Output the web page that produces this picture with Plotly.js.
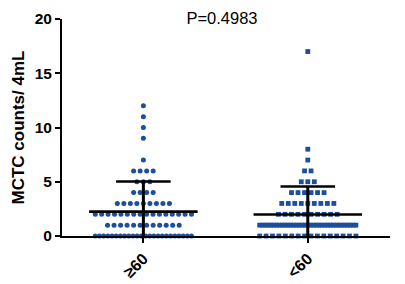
<!DOCTYPE html>
<html>
<head>
<meta charset="utf-8">
<script src="https://cdn.plot.ly/plotly-3.0.1.min.js"></script>
<style>html,body{margin:0;padding:0;background:#fff;}#chart{width:405px;height:284px;}</style>
</head>
<body>
<div id="chart"></div>
<script>
// ---- data ----
const categories = ['≥60', '<60'];
// group ≥60 : distinct values and how many patients at each value
const ge60Values = [0, 1, 2, 3, 4, 5, 6, 7, 9, 10, 11, 12];
const ge60Counts = [24, 12, 16, 9, 4, 3, 4, 1, 1, 1, 1, 1];
// group <60
const lt60Values = [0, 1, 2, 3, 4, 5, 6, 7, 8, 17];
const lt60Counts = [16, 35, 10, 9, 6, 3, 2, 1, 1, 1];
// mean and SD shown by the bars
const means = [2.25, 1.98];
const sds = [2.77, 2.58];
const pText = 'P=0.4983';
const yTickVals = [0, 5, 10, 15, 20];

// ---- styling / layout constants ----
const blue = '#1c4e9d';
const pxPerUnit = 164;     // px per category unit on x
const maxSpacing = 6.5;    // px between neighbouring points
const maxWidth = 96;       // px max width of a row
const meanHalf = 0.33, capHalf = 0.166;

function swarm(center, values, counts) {
  const xs = [], ys = [];
  values.forEach((v, i) => {
    const n = counts[i];
    const sp = n > 1 ? Math.min(maxSpacing, maxWidth / (n - 1)) : 0;
    for (let k = 0; k < n; k++) {
      const off = (k - (n - 1) / 2) * sp;
      xs.push(center + off / pxPerUnit);
      ys.push(v);
    }
  });
  return {xs, ys};
}

const g1 = swarm(0, ge60Values, ge60Counts);
const g2 = swarm(1, lt60Values, lt60Counts);

const traces = [
  {type: 'scatter', mode: 'markers', x: g1.xs, y: g1.ys, cliponaxis: false,
   marker: {symbol: 'circle', size: 5, color: blue, line: {width: 0}}, hoverinfo: 'none'},
  {type: 'scatter', mode: 'markers', x: g2.xs, y: g2.ys, cliponaxis: false,
   marker: {symbol: 'square', size: 4.8, color: blue, line: {width: 0}}, hoverinfo: 'none'}
];

means.forEach((m, i) => {
  const s = sds[i];
  const lineStyle = {color: '#000', width: 2.6};
  traces.push({type: 'scatter', mode: 'lines', x: [i - meanHalf, i + meanHalf], y: [m, m],
               line: lineStyle, cliponaxis: false, hoverinfo: 'none'});
  traces.push({type: 'scatter', mode: 'lines', x: [i - capHalf, i + capHalf], y: [m + s, m + s],
               line: lineStyle, cliponaxis: false, hoverinfo: 'none'});
  traces.push({type: 'scatter', mode: 'lines', x: [i, i], y: [m - s, m + s],
               line: {color: '#000', width: 3}, cliponaxis: false, hoverinfo: 'none'});
});

const layout = {
  width: 405, height: 284,
  margin: {l: 62, r: 15, t: 19, b: 47.7},
  paper_bgcolor: '#fff', plot_bgcolor: '#fff',
  showlegend: false,
  font: {family: 'Liberation Sans, Arial, sans-serif', color: '#000'},
  title: {text: pText, x: 0.548, xanchor: 'center', y: 0.935, yanchor: 'middle',
          font: {size: 16.5, color: '#000'}},
  xaxis: {
    range: [-0.495, 1.5], showgrid: false, zeroline: false,
    showline: true, linecolor: '#000', linewidth: 2,
    tickmode: 'array', tickvals: [0, 1], ticktext: categories,
    ticks: 'outside', ticklen: 5, tickwidth: 2, tickcolor: '#000',
    tickangle: -45, tickfont: {size: 16, weight: 'bold'}
  },
  yaxis: {
    range: [0, 20], showgrid: false, zeroline: false,
    showline: true, linecolor: '#000', linewidth: 2,
    tickmode: 'array', tickvals: yTickVals,
    ticks: 'outside', ticklen: 5, tickwidth: 2, tickcolor: '#000',
    tickfont: {size: 15.5, weight: 'bold'},
    title: {text: 'MCTC counts/ 4mL', font: {size: 17, weight: 'bold'}, standoff: 6}
  }
};

Plotly.newPlot('chart', traces, layout, {staticPlot: true, displayModeBar: false});
</script>
</body>
</html>
